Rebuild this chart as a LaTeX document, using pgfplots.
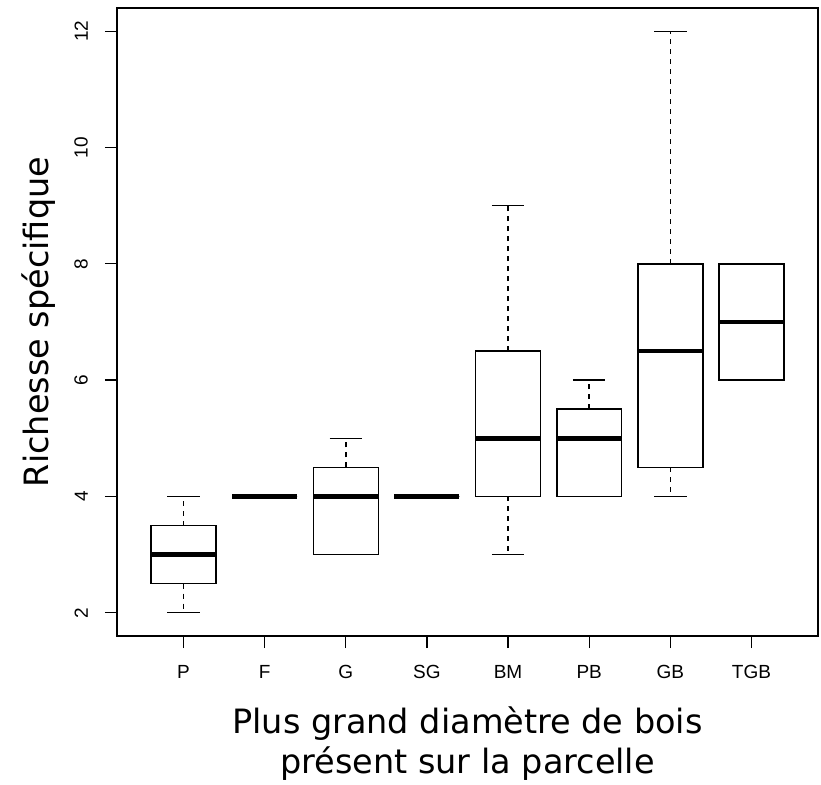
\documentclass[border=0pt]{standalone}
\usepackage{fontspec}
\setmainfont{Liberation Sans}
\newfontfamily\dejavu{DejaVu Sans}
\usepackage{pgfplots}
\pgfplotsset{compat=1.18}
\usepgfplotslibrary{statistics}
\begin{document}
\begin{tikzpicture}
\path[use as bounding box] (-117pt,-148pt) rectangle (704pt,636pt);
\begin{axis}[
  at={(0,0)}, anchor=south west,
  width=701pt, height=628pt, scale only axis,
  xmin=0.18, xmax=8.82, ymin=1.6, ymax=12.4,
  xtick={1,2,3,4,5,6,7,8},
  xticklabels={P,F,G,SG,BM,PB,GB,TGB},
  ytick={2,4,6,8,10,12},
  xtick pos=bottom, ytick pos=left,
  tick align=outside, major tick length=12pt,
  every tick/.style={black, line width=1.3pt},
  axis line style={line width=1.5pt},
  /pgf/number format/assume math mode=true,
  tick label style={font=\fontsize{19}{19}\selectfont},
  yticklabel style={rotate=90, anchor=south, inner sep=0pt},
  xticklabel style={anchor=north, inner sep=0pt},
  yticklabel shift=17pt,
  xticklabel shift=17pt,
  xlabel={Plus grand diamètre de bois\\présent sur la parcelle},
  xlabel style={at={(axis description cs:0.5,-0.1115)}, anchor=north, inner sep=0pt, align=center, font=\dejavu\fontsize{33.5}{40}\selectfont},
  ylabel={Richesse spécifique},
  ylabel style={at={(axis description cs:-0.1113,0.5)}, anchor=center, inner sep=0pt, font=\dejavu\fontsize{33.5}{40}\selectfont},
  boxplot/draw direction=y,
  boxplot/box extend=0.8,
  boxplot/whisker extend=0.4,
  boxplot/every box/.style={line width=1.5pt},
  boxplot/every median/.style={line width=4.8pt},
  boxplot/draw/lower whisker/.code={%
    \draw[line width=1.5pt, dash pattern=on 5pt off 5pt]
      (boxplot box cs:\pgfplotsboxplotvalue{lower quartile},0.5)
      -- (boxplot box cs:\pgfplotsboxplotvalue{lower whisker},0.5);
    \draw[line width=1.5pt]
      (boxplot whisker cs:\pgfplotsboxplotvalue{lower whisker},0)
      -- (boxplot whisker cs:\pgfplotsboxplotvalue{lower whisker},1);
  },
  boxplot/draw/upper whisker/.code={%
    \draw[line width=1.5pt, dash pattern=on 5pt off 5pt]
      (boxplot box cs:\pgfplotsboxplotvalue{upper quartile},0.5)
      -- (boxplot box cs:\pgfplotsboxplotvalue{upper whisker},0.5);
    \draw[line width=1.5pt]
      (boxplot whisker cs:\pgfplotsboxplotvalue{upper whisker},0)
      -- (boxplot whisker cs:\pgfplotsboxplotvalue{upper whisker},1);
  },
]
% P
\addplot[black, boxplot prepared={draw position=1, lower whisker=2, lower quartile=2.5, median=3, upper quartile=3.5, upper whisker=4}] coordinates {};
% F
\addplot[black, boxplot prepared={draw position=2, lower whisker=4, lower quartile=4, median=4, upper quartile=4, upper whisker=4}] coordinates {};
% G
\addplot[black, boxplot prepared={draw position=3, lower whisker=3, lower quartile=3, median=4, upper quartile=4.5, upper whisker=5}] coordinates {};
% SG
\addplot[black, boxplot prepared={draw position=4, lower whisker=4, lower quartile=4, median=4, upper quartile=4, upper whisker=4}] coordinates {};
% BM
\addplot[black, boxplot prepared={draw position=5, lower whisker=3, lower quartile=4, median=5, upper quartile=6.5, upper whisker=9}] coordinates {};
% PB
\addplot[black, boxplot prepared={draw position=6, lower whisker=4, lower quartile=4, median=5, upper quartile=5.5, upper whisker=6}] coordinates {};
% GB
\addplot[black, boxplot prepared={draw position=7, lower whisker=4, lower quartile=4.5, median=6.5, upper quartile=8, upper whisker=12}] coordinates {};
% TGB
\addplot[black, boxplot prepared={draw position=8, lower whisker=6, lower quartile=6, median=7, upper quartile=8, upper whisker=8}] coordinates {};
\end{axis}
\end{tikzpicture}
\end{document}
